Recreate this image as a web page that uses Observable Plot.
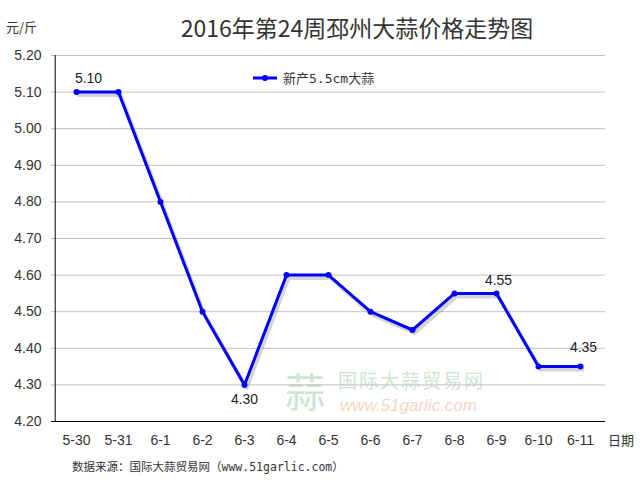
<!DOCTYPE html>
<html><head><meta charset="utf-8">
<script src="https://cdn.jsdelivr.net/npm/d3@7"></script>
<script src="https://cdn.jsdelivr.net/npm/@observablehq/plot@0.6"></script>
<style>
html,body{margin:0;padding:0;background:#fff;}
#wrap{position:relative;width:641px;height:483px;overflow:hidden;font-family:Arial,"Liberation Sans","Noto Sans CJK SC",sans-serif;}
.abs{position:absolute;white-space:nowrap;}
#chart{position:absolute;left:0;top:0;}
</style></head><body>
<div id="wrap">
  <div class="abs" style="left:285px;top:370px;font-family:'Noto Sans CJK SC';font-size:40px;line-height:40px;color:#bfe0c4;opacity:0.8;">蒜</div>
  <div class="abs" style="left:338px;top:370px;font-family:'Noto Sans CJK SC';font-size:19px;line-height:19px;color:#bfe0c4;opacity:0.8;letter-spacing:2px;">国际大蒜贸易网</div>
  <div class="abs" style="left:340px;top:398px;font-family:Arial;font-style:italic;font-size:17px;line-height:15px;color:#f6cdb7;opacity:0.8;">www.51garlic.com</div>
  <div id="chart"></div>
  <div class="abs" style="left:0;width:714px;top:10px;text-align:center;font-family:'Noto Sans CJK SC';font-size:23px;color:#333;">2016年第24周邳州大蒜价格走势图</div>
  <div class="abs" style="left:6px;top:17px;font-family:'Noto Sans CJK SC';font-size:13px;color:#333;">元/斤</div>
  <div class="abs" style="left:608px;top:430px;font-family:'Noto Sans CJK SC';font-size:13px;color:#333;">日期</div>
  <div class="abs" style="left:253px;top:68px;display:flex;align-items:center;">
    <svg width="24" height="14"><line x1="0" y1="7" x2="24" y2="7" stroke="#0000ff" stroke-width="3"/><circle cx="12" cy="7" r="3" fill="#0000ff"/></svg>
    <span style="margin-left:6px;font-family:'DejaVu Sans Mono','Noto Sans CJK SC';font-size:13px;color:#333;">新产5.5cm大蒜</span>
  </div>
  <div class="abs" style="left:72px;top:458px;font-family:'DejaVu Sans Mono','Noto Sans CJK SC';font-size:11.5px;color:#333;">数据来源：国际大蒜贸易网（www.51garlic.com）</div>
</div>
<script>
const dates = ["5-30","5-31","6-1","6-2","6-3","6-4","6-5","6-6","6-7","6-8","6-9","6-10","6-11"];
const prices = [5.10,5.10,4.80,4.50,4.30,4.60,4.60,4.50,4.45,4.55,4.55,4.35,4.35];
const yTicks = [4.20,4.30,4.40,4.50,4.60,4.70,4.80,4.90,5.00,5.10,5.20];
const labelIdx = [0,4,10,12];
const labelDx = [12,0,2,3];
const labelDy = [-14,15,-13,-19];

const data = dates.map((d,i)=>({date:d, price:prices[i]}));
const labels = labelIdx.map((i,k)=>({date:dates[i], price:prices[i], dx:labelDx[k], dy:labelDy[k]}));

const plot = Plot.plot({
  width: 641, height: 483,
  marginTop: 55, marginBottom: 62, marginLeft: 51, marginRight: 36,
  style:{background:"transparent", fontFamily:"Arial, 'Liberation Sans', sans-serif", fontSize:"14px", color:"#333"},
  x:{type:"band", domain:dates, padding:0, label:null},
  y:{domain:[4.2,5.2], ticks:yTicks, label:null},
  marks:[
    Plot.gridY(yTicks.filter(v=>v>4.2), {stroke:"#c0c0c0", strokeOpacity:1, strokeWidth:1}),
    Plot.axisY({ticks:yTicks, tickFormat:d=>d.toFixed(2), tickSize:0, tickPadding:10, fontSize:14, fill:"#333"}),
    Plot.axisX({tickSize:0, tickPadding:14, fontSize:14, fill:"#333"}),
    Plot.ruleX([0],{x:()=>dates[0], dx:-21.3, y1:4.2, y2:5.2, stroke:"#000"}),
    Plot.ruleY([4.2],{stroke:"#000"}),
    Plot.line(data,{x:"date", y:"price", stroke:"#888", strokeOpacity:0.35, strokeWidth:4, dx:2, dy:3}),
    Plot.line(data,{x:"date", y:"price", stroke:"#0000ff", strokeWidth:3}),
    Plot.dot(data,{x:"date", y:"price", fill:"#0000ff", r:3}),
    ...labels.map(l=>Plot.text([l],{x:"date", y:"price", text:d=>d.price.toFixed(2), dx:l.dx, dy:l.dy, fontSize:14, fill:"#222"}))
  ]
});
document.getElementById("chart").appendChild(plot);
</script>
</body></html>
